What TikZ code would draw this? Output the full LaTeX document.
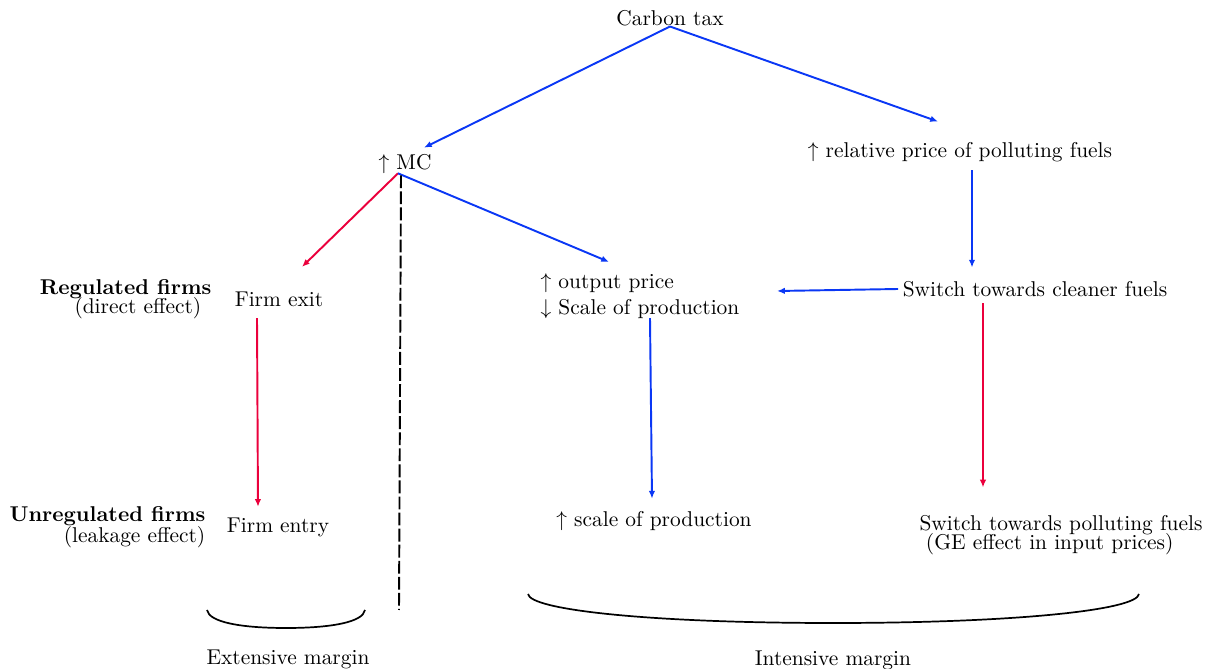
\documentclass[tikz,border=0pt]{standalone}
\usetikzlibrary{arrows.meta}
\newdimen\u \u=0.467pt
\definecolor{cblue}{RGB}{10,55,245}
\definecolor{cred}{RGB}{235,0,60}
\tikzset{
  lbl/.style={inner sep=2pt},
  conn/.style={line width=0.9pt,-{Latex[length=3.6pt,width=3pt]}},
  bconn/.style={conn,cblue},
  rconn/.style={conn,cred},
  brace/.style={line width=0.8pt},
}
\begin{document}
\begin{tikzpicture}[x=0.467pt,y=-0.467pt]
\useasboundingbox (0,0) rectangle (1205,669);
\node[lbl] (ct) at (670,18) {Carbon tax};
\node[lbl] (mc) at (405,164) {$\uparrow$ MC};
\node[lbl] (rp) at (960,152) {$\uparrow$ relative price of polluting fuels};
\node[lbl] (fx) at (279,299) {Firm exit};
\node[lbl,align=left] (op) at (640,296) {$\uparrow$ output price\\$\downarrow$ Scale of production};
\node[lbl] (sc) at (1035,289) {Switch towards cleaner fuels};
\node[lbl] (fe) at (278,527) {Firm entry};
\node[lbl] (sp) at (654,521) {$\uparrow$ scale of production};
\node[lbl,align=left] (spf) at (1061,535) {Switch towards polluting fuels\\[-3pt]\hspace{3pt}(GE effect in input prices)};
\node[lbl,align=right,anchor=east] (reg) at (216,299) {\textbf{Regulated firms}\\[-3pt](direct effect)\hspace*{4.7pt}};
\node[lbl,align=right,anchor=east] (unreg) at (210,527) {\textbf{Unregulated firms}\\[-2pt](leakage effect)};
\node[lbl] (ext) at (288,659) {Extensive margin};
\node[lbl] (int) at (833,660) {Intensive margin};
\coordinate (dashend) at (399,610);

\draw[bconn] ([yshift=4\u]ct.south) -- ([xshift=19\u,yshift=2\u]mc.north);
\draw[bconn] ([yshift=4\u]ct.south) -- ([xshift=-22\u,yshift=16\u]rp.north);
\draw[rconn] ([xshift=-7\u,yshift=5\u]mc.south) -- ([xshift=23\u,yshift=20\u]fx.north);
\draw[bconn] ([xshift=-7\u,yshift=5\u]mc.south) -- ([xshift=-31\u,yshift=7\u]op.north);
\draw[bconn] ([xshift=12\u,yshift=-4\u]rp.south) -- ([xshift=-63\u,yshift=9\u]sc.north);
\draw[bconn] (sc.west) -- ([xshift=33\u,yshift=5\u]op.east);
\draw[rconn] ([xshift=-22\u,yshift=-7\u]fx.south) -- ([xshift=-20\u,yshift=6\u]fe.north);
\draw[bconn] ([xshift=10\u,yshift=5\u]op.south) -- ([xshift=-2\u,yshift=8\u]sp.north);
\draw[rconn] ([xshift=-52\u,yshift=-2\u]sc.south) -- ([xshift=-78\u,yshift=23\u]spf.north);
\draw[line width=0.9pt,dash pattern=on 6pt off 1.5pt] ([xshift=-4\u,yshift=3\u]mc.south) -- (dashend);

\draw[brace] (207,610) .. controls (209,622) and (240,628) .. (286,628) .. controls (332,628) and (363,622) .. (365,610);
\draw[brace] (528,594) .. controls (530,610) and (650,623) .. (833,623) .. controls (1016,623) and (1137,610) .. (1139,594);
\end{tikzpicture}
\end{document}
